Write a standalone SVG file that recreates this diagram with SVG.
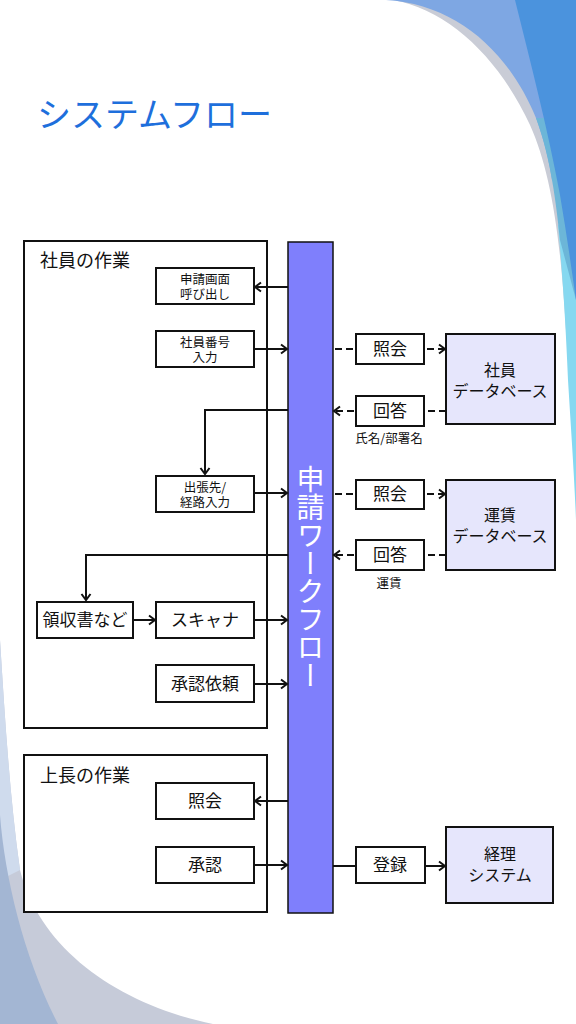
<svg xmlns="http://www.w3.org/2000/svg" width="576" height="1024" viewBox="0 0 576 1024">
<defs>
<style>
.jp{font-family:"Noto Sans CJK JP","Noto Sans",sans-serif;fill:#111}
.box{fill:#fff;stroke:#111;stroke-width:2}
.db{fill:#e6e6fc;stroke:#111;stroke-width:2}
.area{fill:#fff;stroke:#111;stroke-width:2}
.ln{fill:none;stroke:#111;stroke-width:2}
.dash{fill:none;stroke:#111;stroke-width:2;stroke-dasharray:7 4}
.s17{font-size:17px;text-anchor:middle}
.s13{font-size:12.5px;text-anchor:middle}
.s16{font-size:16px;text-anchor:middle}
</style>
<marker id="arr" markerUnits="userSpaceOnUse" markerWidth="12" markerHeight="12" refX="9" refY="6" orient="auto">
<path d="M3,1.5 L9,6 L3,10.5" fill="none" stroke="#111" stroke-width="2"/>
</marker>
</defs>
<rect width="576" height="1024" fill="#fff"/>
<g id="decor">
<path d="M393,0 C450,10 500,60 530,125 C550,170 560,230 566,330 L576,330 L576,0 Z" fill="#c9ccd6"/>
<path d="M558,225 C563,280 566,330 568,380 C571,430 574,470 576,520 L576,225 Z" fill="#86d8f0"/>
<path d="M386,0 C455,4 508,50 536,118 C544,140 549,160 552,180 L576,180 L576,0 Z" fill="#7ea7e3"/>
<path d="M536,118 C548,150 555,190 560,240 L576,300 L576,118 Z" fill="#6cb6d8"/>
<path d="M515,0 C530,60 548,130 560,195 C566,230 571,265 576,300 L576,0 Z" fill="#4b93dd"/>
<path d="M0,640 C5,720 10,800 20,870 C40,950 120,1005 213,1024 L0,1024 Z" fill="#c6cbd9"/>
<path d="M0,640 C5,720 10,800 20,870 L0,880 Z" fill="#cfdbed"/>
<path d="M0,815 C5,880 25,960 58,1024 L0,1024 Z" fill="#a3b6d3"/>
</g>
<text x="37" y="127" class="jp" style="font-size:34px;fill:#1e6fdc">システムフロー</text>
<g id="area-employee">
<rect class="area" x="24" y="241" width="243" height="487"/>
<text class="jp" x="40" y="267" style="font-size:18px">社員の作業</text>
</g>
<g id="area-boss">
<rect class="area" x="24" y="755" width="243" height="157"/>
<text class="jp" x="40" y="782" style="font-size:18px">上長の作業</text>
</g>
<g id="workflow">
<rect x="288" y="242" width="45" height="671" fill="#7f7ffc" stroke="#111" stroke-width="1.5"/>
<text class="jp" x="310.5" y="577.5" style="font-size:28px;fill:#fff;writing-mode:vertical-rl;text-anchor:middle">申請ワークフロー</text>
</g>
<g id="n-call">
<rect class="box" x="156" y="268" width="98" height="36"/>
<text class="jp s13" x="205" y="284">申請画面<tspan x="205" dy="15">呼び出し</tspan></text>
</g>
<g id="n-empno">
<rect class="box" x="156" y="331" width="98" height="36"/>
<text class="jp s13" x="205" y="347">社員番号<tspan x="205" dy="15">入力</tspan></text>
</g>
<g id="n-route">
<rect class="box" x="156" y="476" width="98" height="36"/>
<text class="jp s13" x="205" y="492">出張先/<tspan x="205" dy="15">経路入力</tspan></text>
</g>
<g id="n-receipt">
<rect class="box" x="37" y="602" width="96" height="36"/>
<text class="jp s17" x="85" y="626">領収書など</text>
</g>
<g id="n-scanner">
<rect class="box" x="156" y="602" width="98" height="36"/>
<text class="jp s17" x="205" y="626">スキャナ</text>
</g>
<g id="n-request">
<rect class="box" x="156" y="665" width="98" height="37"/>
<text class="jp s17" x="205" y="690">承認依頼</text>
</g>
<g id="n-boss-query">
<rect class="box" x="156" y="783" width="98" height="36"/>
<text class="jp s17" x="205" y="807">照会</text>
</g>
<g id="n-approve">
<rect class="box" x="156" y="847" width="98" height="36"/>
<text class="jp s17" x="205" y="871">承認</text>
</g>
<g id="n-q1">
<rect class="box" x="356" y="334" width="68" height="30"/>
<text class="jp s17" x="390" y="355">照会</text>
</g>
<g id="n-a1">
<rect class="box" x="356" y="396" width="68" height="30"/>
<text class="jp s17" x="390" y="417">回答</text>
<text class="jp" x="389" y="443" style="font-size:12.5px;text-anchor:middle">氏名/部署名</text>
</g>
<g id="n-q2">
<rect class="box" x="356" y="480" width="68" height="29"/>
<text class="jp s17" x="390" y="500">照会</text>
</g>
<g id="n-a2">
<rect class="box" x="356" y="540" width="68" height="30"/>
<text class="jp s17" x="390" y="561">回答</text>
<text class="jp" x="389" y="588" style="font-size:12.5px;text-anchor:middle">運賃</text>
</g>
<g id="n-empdb">
<rect class="db" x="446" y="334" width="109" height="90"/>
<text class="jp s16" x="500" y="376">社員<tspan x="500" dy="21">データベース</tspan></text>
</g>
<g id="n-faredb">
<rect class="db" x="446" y="480" width="109" height="90"/>
<text class="jp s16" x="500" y="521">運賃<tspan x="500" dy="21">データベース</tspan></text>
</g>
<g id="n-register">
<rect class="box" x="356" y="847" width="69" height="36"/>
<text class="jp s17" x="390" y="871">登録</text>
</g>
<g id="n-acct">
<rect class="db" x="446" y="827" width="107" height="76"/>
<text class="jp s16" x="500" y="860">経理<tspan x="500" dy="21">システム</tspan></text>
</g>
<g id="connectors">
<path class="ln" d="M288,287 L255,287" marker-end="url(#arr)"/>
<path class="ln" d="M254,349 L287,349" marker-end="url(#arr)"/>
<path class="ln" d="M288,410 L205,410 L205,474" marker-end="url(#arr)"/>
<path class="ln" d="M254,493 L287,493" marker-end="url(#arr)"/>
<path class="ln" d="M288,555 L86,555 L86,600" marker-end="url(#arr)"/>
<path class="ln" d="M133,620 L155,620" marker-end="url(#arr)"/>
<path class="ln" d="M254,620 L287,620" marker-end="url(#arr)"/>
<path class="ln" d="M254,684 L287,684" marker-end="url(#arr)"/>
<path class="ln" d="M288,801 L255,801" marker-end="url(#arr)"/>
<path class="ln" d="M254,865 L287,865" marker-end="url(#arr)"/>
<path class="ln" d="M333,866 L356,866"/>
<path class="ln" d="M425,866 L445,866" marker-end="url(#arr)"/>
<path class="dash" d="M335,349 L356,349"/>
<path class="dash" d="M427,349 L445,349" marker-end="url(#arr)"/>
<path class="dash" d="M446,411 L424,411"/>
<path class="dash" d="M354,411 L334,411" marker-end="url(#arr)"/>
<path class="dash" d="M335,494 L356,494"/>
<path class="dash" d="M427,494 L445,494" marker-end="url(#arr)"/>
<path class="dash" d="M446,555 L424,555"/>
<path class="dash" d="M354,555 L334,555" marker-end="url(#arr)"/>
</g>
</svg>
